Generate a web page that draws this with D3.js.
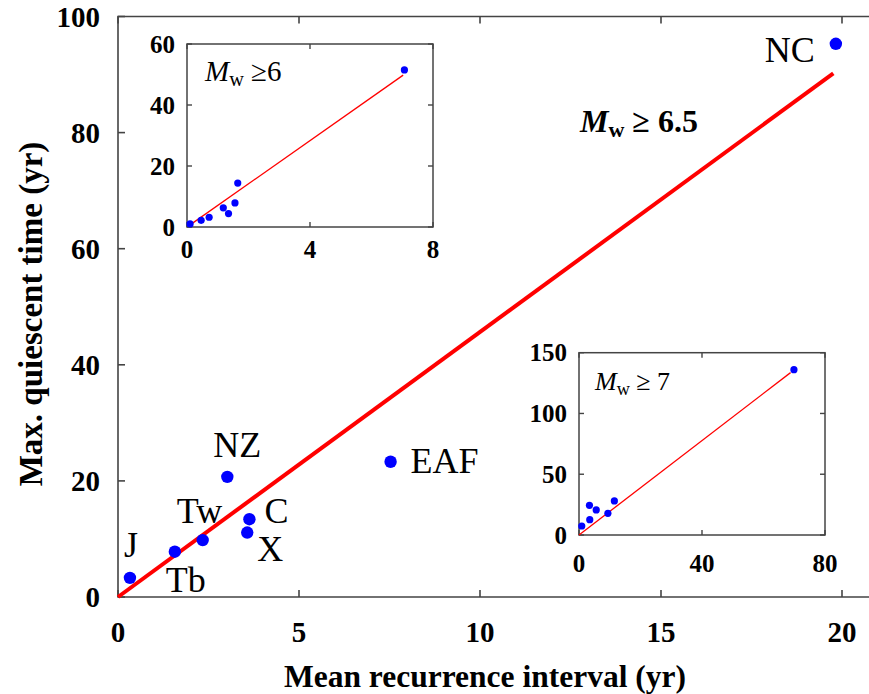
<!DOCTYPE html>
<html><head><meta charset="utf-8">
<script src="https://cdn.jsdelivr.net/npm/d3@7"></script>
<style>body{margin:0;background:#fff}svg{display:block}</style>
</head><body>
<svg id="c" width="869" height="694" font-family="'Liberation Serif', 'DejaVu Serif', serif"></svg>
<script>
// Main panel (Mw >= 6.5)
const regions = ["J","Tb","Tw","NZ","C","X","EAF","NC"];
const meanInterval = [0.33,1.57,2.34,3.02,3.63,3.57,7.53,19.83];
const maxQuiescent = [3.3,7.8,9.8,20.7,13.4,11.1,23.3,95.3];
const fitX = [0,19.76];
const fitY = [0,90.2];
const xTicks = [0,5,10,15,20];
const yTicks = [0,20,40,60,80,100];

// Inset A (Mw >= 6)
const insetA_x = [0.1,0.46,0.72,1.18,1.35,1.56,1.65,7.07];
const insetA_y = [1.0,2.2,3.2,6.3,4.4,7.9,14.4,51.5];
const insetA_fitX = [0.1,7.03];
const insetA_fitY = [0.7,49.8];
const insetA_xTicks = [0,4,8];
const insetA_yTicks = [0,20,40,60];

// Inset B (Mw >= 7)
const insetB_x = [0.9,3.5,3.4,5.6,9.4,11.5,69.9];
const insetB_y = [7.4,12.6,24.4,20.6,17.8,28,136];
const insetB_fitX = [0,68.8];
const insetB_fitY = [0,133.6];
const insetB_xTicks = [0,40,80];
const insetB_yTicks = [0,50,100,150];

const FONT = "'Liberation Serif', 'DejaVu Serif', serif";
const svg = d3.select("#c");
const frameCol = "#444";

// ---------- main panel ----------
const x = d3.scaleLinear().domain([0,20]).range([118,842]);
const y = d3.scaleLinear().domain([0,100]).range([597,16.5]);
const right = 880;

const main = svg.append("g");
main.append("path").attr("d",`M${right},${y(100)}H${x(0)}V${y(0)}H${right}`)
  .attr("fill","none").attr("stroke",frameCol).attr("stroke-width",1.6);
xTicks.forEach(t=>{
  main.append("line").attr("x1",x(t)).attr("x2",x(t)).attr("y1",y(0)).attr("y2",y(0)-7).attr("stroke",frameCol).attr("stroke-width",1.6);
  main.append("line").attr("x1",x(t)).attr("x2",x(t)).attr("y1",y(100)).attr("y2",y(100)+7).attr("stroke",frameCol).attr("stroke-width",1.6);
  main.append("text").attr("x",x(t)).attr("y",y(0)+35).attr("dy","0.35em").attr("text-anchor","middle")
    .attr("font-family",FONT).attr("font-weight","bold").attr("font-size",29).text(t);
});
yTicks.forEach(t=>{
  main.append("line").attr("x1",x(0)).attr("x2",x(0)+7).attr("y1",y(t)).attr("y2",y(t)).attr("stroke",frameCol).attr("stroke-width",1.6);
  main.append("text").attr("x",x(0)-18).attr("y",y(t)).attr("dy","0.35em").attr("text-anchor","end")
    .attr("font-family",FONT).attr("font-weight","bold").attr("font-size",29).text(t);
});
main.append("text").attr("x",485).attr("y",676).attr("dy","0.35em").attr("text-anchor","middle")
  .attr("font-family",FONT).attr("font-weight","bold").attr("font-size",31.5).text("Mean recurrence interval (yr)");
main.append("text").attr("transform","translate(30,314) rotate(-90)").attr("dy","0.35em").attr("text-anchor","middle")
  .attr("font-family",FONT).attr("font-weight","bold").attr("font-size",33).text("Max. quiescent time (yr)");

main.append("path").datum(d3.zip(fitX,fitY))
  .attr("d",d3.line().x(d=>x(d[0])).y(d=>y(d[1])))
  .attr("stroke","#ff0000").attr("stroke-width",4).attr("fill","none");
const pts = d3.zip(meanInterval,maxQuiescent,regions);
main.selectAll("circle.m").data(pts).join("circle").attr("class","m")
  .attr("cx",d=>x(d[0])).attr("cy",d=>y(d[1])).attr("r",6.2).attr("fill","#0000ff");
const labelOffset = {J:[-6,-21],Tb:[-9,40],Tw:[-26,-17],NZ:[-14,-20],C:[15,4],X:[10,28],EAF:[20,11],NC:[-71,18]};
main.selectAll("text.lab").data(pts).join("text").attr("class","lab")
  .attr("x",d=>x(d[0])+labelOffset[d[2]][0]).attr("y",d=>y(d[1])+labelOffset[d[2]][1])
  .attr("font-family",FONT).attr("font-size",36).text(d=>d[2]);

const t1 = main.append("text").attr("x",580).attr("y",132).attr("font-size",32).attr("font-weight","bold").attr("font-family",FONT);
t1.append("tspan").attr("font-style","italic").text("M");
t1.append("tspan").attr("font-size",22).attr("dy",5).text("w");
t1.append("tspan").attr("dy",-5).text(" \u2265 6.5");

// ---------- insets ----------
function inset(cfg){
  const g = svg.append("g");
  const sx = d3.scaleLinear().domain(cfg.xd).range(cfg.xr);
  const sy = d3.scaleLinear().domain(cfg.yd).range(cfg.yr);
  g.append("rect").attr("x",cfg.xr[0]).attr("y",cfg.yr[1]).attr("width",cfg.xr[1]-cfg.xr[0]).attr("height",cfg.yr[0]-cfg.yr[1])
    .attr("fill","#fff").attr("stroke",frameCol).attr("stroke-width",1.5);
  cfg.xt.forEach(t=>{
    g.append("line").attr("x1",sx(t)).attr("x2",sx(t)).attr("y1",cfg.yr[0]).attr("y2",cfg.yr[0]-5).attr("stroke",frameCol).attr("stroke-width",1.4);
    g.append("line").attr("x1",sx(t)).attr("x2",sx(t)).attr("y1",cfg.yr[1]).attr("y2",cfg.yr[1]+5).attr("stroke",frameCol).attr("stroke-width",1.4);
    g.append("text").attr("x",sx(t)).attr("y",cfg.yr[0]+cfg.xlab).attr("dy","0.35em").attr("text-anchor","middle")
      .attr("font-family",FONT).attr("font-weight","bold").attr("font-size",25).text(t);
  });
  cfg.yt.forEach(t=>{
    g.append("line").attr("x1",cfg.xr[0]).attr("x2",cfg.xr[0]+5).attr("y1",sy(t)).attr("y2",sy(t)).attr("stroke",frameCol).attr("stroke-width",1.4);
    g.append("line").attr("x1",cfg.xr[1]).attr("x2",cfg.xr[1]-5).attr("y1",sy(t)).attr("y2",sy(t)).attr("stroke",frameCol).attr("stroke-width",1.4);
    g.append("text").attr("x",cfg.xr[0]-12).attr("y",sy(t)).attr("dy","0.35em").attr("text-anchor","end")
      .attr("font-family",FONT).attr("font-weight","bold").attr("font-size",25).text(t);
  });
  g.append("path").datum(d3.zip(cfg.fx,cfg.fy)).attr("d",d3.line().x(d=>sx(d[0])).y(d=>sy(d[1])))
    .attr("stroke","#ff0000").attr("stroke-width",1.3).attr("fill","none");
  g.selectAll("circle").data(d3.zip(cfg.px,cfg.py)).join("circle")
    .attr("cx",d=>sx(d[0])).attr("cy",d=>sy(d[1])).attr("r",3.6).attr("fill","#0000ff");
  const tt = g.append("text").attr("x",cfg.lx).attr("y",cfg.ly).attr("font-size",cfg.fs).attr("font-family",FONT);
  tt.append("tspan").attr("font-style","italic").text("M");
  tt.append("tspan").attr("font-size",cfg.fs*0.7).attr("dy",5).text("w");
  tt.append("tspan").attr("dy",-5).text(cfg.lt);
}
inset({xd:[0,8],xr:[187,433],yd:[0,60],yr:[227,44],xt:insetA_xTicks,yt:insetA_yTicks,xlab:22,
  px:insetA_x,py:insetA_y,fx:insetA_fitX,fy:insetA_fitY,lx:205,ly:81,lt:" \u22656",fs:29});
inset({xd:[0,80],xr:[579,825],yd:[0,150],yr:[535,352.7],xt:insetB_xTicks,yt:insetB_yTicks,xlab:28,
  px:insetB_x,py:insetB_y,fx:insetB_fitX,fy:insetB_fitY,lx:595,ly:390,lt:" \u2265 7",fs:26});
</script>
</body></html>
